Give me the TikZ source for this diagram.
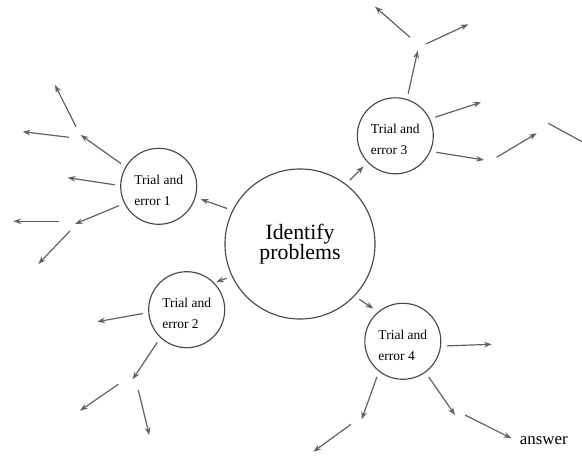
\documentclass[tikz,border=0pt]{standalone}
\usepackage{fontspec}
\setmainfont{Liberation Serif}
\usetikzlibrary{arrows.meta}
\newcommand\idfont{\fontsize{15.5}{14.3}\selectfont\lineskiplimit=-5pt\relax}
\begin{document}
\begin{tikzpicture}[x=0.025cm,y=-0.025cm,>={Stealth[length=5.5pt,width=4pt]},
  arr/.style={->,draw=black!62,line width=0.85pt},
  trial/.style={circle,draw=black!72,line width=0.8pt,minimum size=1.9cm,inner sep=0pt,
    outer sep=0.15cm,align=left,font=\fontsize{9.6}{15}\selectfont},
  idcirc/.style={circle,draw=black!72,line width=0.8pt,minimum size=3.75cm,inner sep=0pt,
    outer sep=0.15cm,align=center,font=\idfont}]
  \useasboundingbox (0,0) rectangle (582,457);

  % 圆圈
  \node[idcirc] (idp) at (300,244) {Identify\\problems};
  \node[trial] (te1) at (158.7,186.3) {\rule{0pt}{12pt}Trial and\\error 1};
  \node[trial] (te2) at (186.7,309.7) {\rule{0pt}{12pt}Trial and\\error 2};
  \node[trial] (te3) at (395.3,135.8) {\rule{0pt}{12pt}Trial and\\error 3};
  \node[trial] (te4) at (402.8,341.3) {\rule{0pt}{12pt}Trial and\\error 4};
  \node[anchor=base west,font=\fontsize{12}{14}\selectfont] (ans) at (515,444) {answer};

  % 箭头端点
  \coordinate (a1) at (80.7,135);
  \coordinate (a2) at (67.7,177.7);
  \coordinate (a3) at (75,224);
  \coordinate (b1s) at (76,126.7);
  \coordinate (b1) at (55,85);
  \coordinate (b2s) at (69,137.3);
  \coordinate (b2) at (22.7,131.7);
  \coordinate (b3s) at (59.3,221.3);
  \coordinate (b3) at (13.3,221.3);
  \coordinate (b4s) at (70,231);
  \coordinate (b4) at (38.3,264);

  \coordinate (c1) at (417.7,50.7);
  \coordinate (c1s) at (410,37.3);
  \coordinate (c1e) at (375,6.7);
  \coordinate (c2s) at (426,44);
  \coordinate (c2e) at (468.3,24.3);
  \coordinate (c3) at (481,102.3);
  \coordinate (c4) at (484,160);
  \coordinate (c5s) at (496.7,157.3);
  \coordinate (c5e) at (536.7,133.3);
  \coordinate (c6s) at (548.3,123.3);
  \coordinate (c6e) at (582,141.7);

  \coordinate (d1) at (97.3,321.7);
  \coordinate (d2) at (132.7,379.3);
  \coordinate (d3s) at (118.3,384.3);
  \coordinate (d3e) at (80,410.7);
  \coordinate (d4s) at (138.3,390);
  \coordinate (d4e) at (149.3,435);

  \coordinate (e1) at (491.7,344.3);
  \coordinate (e2) at (361.7,419.3);
  \coordinate (e3s) at (351,424.3);
  \coordinate (e3e) at (313.3,451.7);
  \coordinate (e4) at (455,415);
  \coordinate (e5s) at (465,415);

  % 中心到四个圆
  \draw[arr] (idp.154) -- (te1.343);
  \draw[arr,shorten >=-0.1cm] (idp.205) -- (te2.41);
  \draw[arr] (idp.52) -- (te3.224);
  \draw[arr] (idp.317) -- (te4.132);

  % 试错 1
  \draw[arr] (te1.149) -- (a1);
  \draw[arr] (te1.178) -- (a2);
  \draw[arr] (te1.206) -- (a3);
  \draw[arr] (b1s) -- (b1);
  \draw[arr] (b2s) -- (b2);
  \draw[arr] (b3s) -- (b3);
  \draw[arr] (b4s) -- (b4);

  % 试错 3
  \draw[arr] (te3.73) -- (c1);
  \draw[arr] (c1s) -- (c1e);
  \draw[arr] (c2s) -- (c2e);
  \draw[arr] (te3.25) -- (c3);
  \draw[arr] (te3.338) -- (c4);
  \draw[arr] (c5s) -- (c5e);
  \draw[draw=black!62,line width=0.85pt] (c6s) -- (c6e);

  % 试错 2
  \draw[arr] (te2.185) -- (d1);
  \draw[arr] (te2.228) -- (d2);
  \draw[arr] (d3s) -- (d3e);
  \draw[arr] (d4s) -- (d4e);

  % 试错 4
  \draw[arr] (te4.354) -- (e1);
  \draw[arr] (te4.234) -- (e2);
  \draw[arr] (e3s) -- (e3e);
  \draw[arr] (te4.306) -- (e4);
  \draw[arr,shorten >=0.1cm] (e5s) -- (ans.west);
\end{tikzpicture}
\end{document}
